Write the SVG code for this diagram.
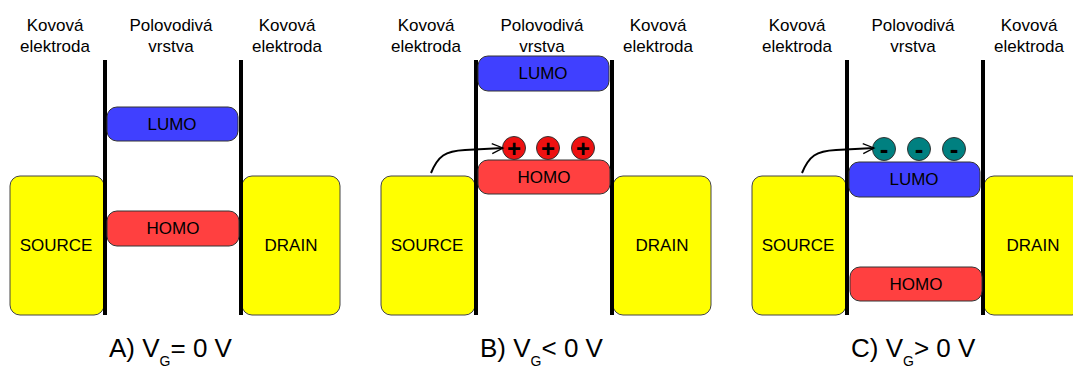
<svg xmlns="http://www.w3.org/2000/svg" width="1073" height="367" viewBox="0 0 1073 367">
<style>
text{font-family:"Liberation Sans",Arial,sans-serif;fill:#000}
.lbl{font-size:17px;text-anchor:middle}
.cap{font-size:26px}
.sub{font-size:14px}
.el{fill:#ffff00;stroke:#444;stroke-width:1}
.lumo{fill:#4040ff;stroke:#333;stroke-width:1}
.homo{fill:#ff4040;stroke:#333;stroke-width:1}
.wall{stroke:#000;stroke-width:4}
.hole{fill:#ee1111;stroke:#333;stroke-width:1}
.elec{fill:#008080;stroke:#333;stroke-width:1}
.sign{font-size:24px;font-weight:bold;text-anchor:middle}
.minus{font-size:26px;font-weight:bold;text-anchor:middle}
.arr{fill:none;stroke:#000;stroke-width:2}
</style>
<defs>
<marker id="ah" markerWidth="14" markerHeight="12" refX="12" refY="6" orient="auto" markerUnits="userSpaceOnUse">
<polyline points="1,1 12,6 1,11" fill="none" stroke="#000" stroke-width="1.3"/>
</marker>
</defs>

<!-- Panel A -->
<g id="panelA">
<g id="A-labels">
<text class="lbl" x="55" y="31">Kovová</text><text class="lbl" x="55" y="52">elektroda</text>
<text class="lbl" x="171" y="31">Polovodivá</text><text class="lbl" x="171" y="52">vrstva</text>
<text class="lbl" x="287" y="31">Kovová</text><text class="lbl" x="287" y="52">elektroda</text>
</g>
<g id="A-source"><rect class="el" x="10" y="176" width="94" height="139" rx="10"/><text class="lbl" x="56" y="251">SOURCE</text></g>
<g id="A-drain"><rect class="el" x="242" y="176" width="98" height="139" rx="10"/><text class="lbl" x="291" y="251">DRAIN</text></g>
<g id="A-walls"><line class="wall" x1="105" y1="60" x2="105" y2="315"/><line class="wall" x1="241" y1="60" x2="241" y2="315"/></g>
<g id="A-lumo"><rect class="lumo" x="107" y="107" width="131" height="34" rx="10"/><text class="lbl" x="172" y="130">LUMO</text></g>
<g id="A-homo"><rect class="homo" x="107" y="211" width="132" height="35" rx="10"/><text class="lbl" x="173" y="234">HOMO</text></g>
<text id="A-caption" class="cap" x="109" y="357">A) V<tspan class="sub" dy="9">G</tspan><tspan dy="-9">= 0 V</tspan></text>
</g>

<!-- Panel B -->
<g id="panelB">
<g id="B-labels">
<text class="lbl" x="426" y="31">Kovová</text><text class="lbl" x="426" y="52">elektroda</text>
<text class="lbl" x="542" y="31">Polovodivá</text><text class="lbl" x="542" y="52">vrstva</text>
<text class="lbl" x="658" y="31">Kovová</text><text class="lbl" x="658" y="52">elektroda</text>
</g>
<g id="B-source"><rect class="el" x="381" y="176" width="94" height="139" rx="10"/><text class="lbl" x="427" y="251">SOURCE</text></g>
<g id="B-drain"><rect class="el" x="613" y="176" width="98" height="139" rx="10"/><text class="lbl" x="662" y="251">DRAIN</text></g>
<g id="B-walls"><line class="wall" x1="476" y1="60" x2="476" y2="315"/><line class="wall" x1="612" y1="60" x2="612" y2="315"/></g>
<g id="B-lumo"><rect class="lumo" x="478" y="56" width="131" height="35" rx="10"/><text class="lbl" x="543" y="79">LUMO</text></g>
<g id="B-homo"><rect class="homo" x="478" y="160" width="132" height="34" rx="10"/><text class="lbl" x="544" y="183">HOMO</text></g>
<g id="B-holes">
<circle class="hole" cx="514" cy="148" r="11.5"/><text class="sign" x="514" y="156.5">+</text>
<circle class="hole" cx="548" cy="148" r="11.5"/><text class="sign" x="548" y="156.5">+</text>
<circle class="hole" cx="583" cy="148" r="11.5"/><text class="sign" x="583" y="156.5">+</text>
</g>
<text id="B-caption" class="cap" x="480" y="357">B) V<tspan class="sub" dy="9">G</tspan><tspan dy="-9">&lt; 0 V</tspan></text>
</g>

<!-- Panel C -->
<g id="panelC">
<g id="C-labels">
<text class="lbl" x="797" y="31">Kovová</text><text class="lbl" x="797" y="52">elektroda</text>
<text class="lbl" x="913" y="31">Polovodivá</text><text class="lbl" x="913" y="52">vrstva</text>
<text class="lbl" x="1029" y="31">Kovová</text><text class="lbl" x="1029" y="52">elektroda</text>
</g>
<g id="C-source"><rect class="el" x="752" y="176" width="94" height="139" rx="10"/><text class="lbl" x="798" y="251">SOURCE</text></g>
<g id="C-drain"><rect class="el" x="984" y="176" width="98" height="139" rx="10"/><text class="lbl" x="1033" y="251">DRAIN</text></g>
<g id="C-walls"><line class="wall" x1="847" y1="60" x2="847" y2="315"/><line class="wall" x1="983" y1="60" x2="983" y2="315"/></g>
<g id="C-lumo"><rect class="lumo" x="849" y="162" width="131" height="35" rx="10"/><text class="lbl" x="914" y="185">LUMO</text></g>
<g id="C-homo"><rect class="homo" x="850" y="267" width="132" height="34" rx="10"/><text class="lbl" x="916" y="290">HOMO</text></g>
<g id="C-electrons">
<circle class="elec" cx="884" cy="149" r="11.5"/><text class="minus" x="884" y="158">-</text>
<circle class="elec" cx="919" cy="149" r="11.5"/><text class="minus" x="919" y="158">-</text>
<circle class="elec" cx="954" cy="149" r="11.5"/><text class="minus" x="954" y="158">-</text>
</g>
<text id="C-caption" class="cap" x="851" y="357">C) V<tspan class="sub" dy="9">G</tspan><tspan dy="-9">&gt; 0 V</tspan></text>
</g>

<g id="connectors">
<path class="arr" d="M431,173 C438,156 445,151 465,150 L503,148" marker-end="url(#ah)"/>
<path class="arr" d="M802,173 C809,156 816,151 836,150 L874,148" marker-end="url(#ah)"/>
</g>
</svg>
